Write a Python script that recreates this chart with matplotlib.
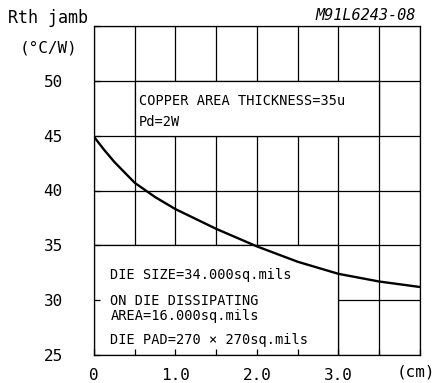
import matplotlib
matplotlib.use("Agg")
import matplotlib.pyplot as plt
from matplotlib.patches import Rectangle

# data
area_cm = [0, 0.125, 0.25, 0.5, 0.75, 1.0, 1.5, 2.0, 2.5, 3.0, 3.5, 4.0]
rth = [44.9, 43.7, 42.6, 40.7, 39.4, 38.3, 36.5, 34.9, 33.5, 32.4, 31.7, 31.2]
x_grid = [0, 0.5, 1.0, 1.5, 2.0, 2.5, 3.0, 3.5, 4.0]
x_labels = ['0', '', '1.0', '', '2.0', '', '3.0', '', '']
y_grid = [25, 30, 35, 40, 45, 50, 55]
y_labels = ['25', '30', '35', '40', '45', '50', '']

mono = 'DejaVu Sans Mono'
plt.rcParams['font.family'] = mono

fig = plt.figure(figsize=(4.35, 3.83), dpi=100)
ax = fig.add_axes([94/435, 1 - 355/383, (420 - 94)/435, (355 - 26)/383])
ax.set_xlim(0, 4)
ax.set_ylim(25, 55)

for xv in x_grid:
    ax.axvline(xv, color='black', lw=0.9, zorder=1)
for yv in y_grid:
    ax.axhline(yv, color='black', lw=0.9, zorder=1)

ax.add_patch(Rectangle((0.5, 45), 3.0, 5, facecolor='white', edgecolor='black', lw=0.9, zorder=2))
ax.add_patch(Rectangle((0, 25), 3.0, 10, facecolor='white', edgecolor='black', lw=0.9, zorder=2))

ax.plot(area_cm, rth, color='black', lw=1.7, zorder=4, solid_capstyle='butt')

fs = 9.8
ax.text(0.55, 48.15, 'COPPER AREA THICKNESS=35u', fontsize=fs, va='center', zorder=5)
ax.text(0.55, 46.24, 'Pd=2W', fontsize=fs, va='center', zorder=5)
ax.text(0.2, 32.29, 'DIE SIZE=34.000sq.mils', fontsize=fs, va='center', zorder=5)
ax.text(0.2, 29.92, 'ON DIE DISSIPATING', fontsize=fs, va='center', zorder=5)
ax.text(0.2, 28.56, 'AREA=16.000sq.mils', fontsize=fs, va='center', zorder=5)
ax.text(0.2, 26.37, 'DIE PAD=270 × 270sq.mils', fontsize=fs, va='center', zorder=5)

ax.set_xticks(x_grid)
ax.set_xticklabels(x_labels)
ax.set_yticks(y_grid)
ax.set_yticklabels(y_labels)
ax.tick_params(direction='in', length=4, width=0.9, labelsize=11.5,
               top=False, right=False)
ax.tick_params(axis='x', pad=9)
ax.tick_params(axis='y', pad=29.5)
for lab in ax.get_yticklabels():
    lab.set_horizontalalignment('center')
ax.set_axisbelow(False)
for s in ax.spines.values():
    s.set_linewidth(0.9)
    s.set_zorder(6)

fig.text(8/435, 1 - 18/383, 'Rth jamb', fontsize=12, va='center', ha='left')
fig.text(20/435, 1 - 48/383, '(°C/W)', fontsize=11.5, va='center', ha='left')
fig.text(416/435, 1 - 15/383, 'M91L6243-08', fontsize=11, va='center', ha='right', style='italic')
fig.text(416/435, 1 - 372/383, '(cm)', fontsize=11.5, va='center', ha='center')

fig.savefig('out.png', dpi=100, facecolor='white')
